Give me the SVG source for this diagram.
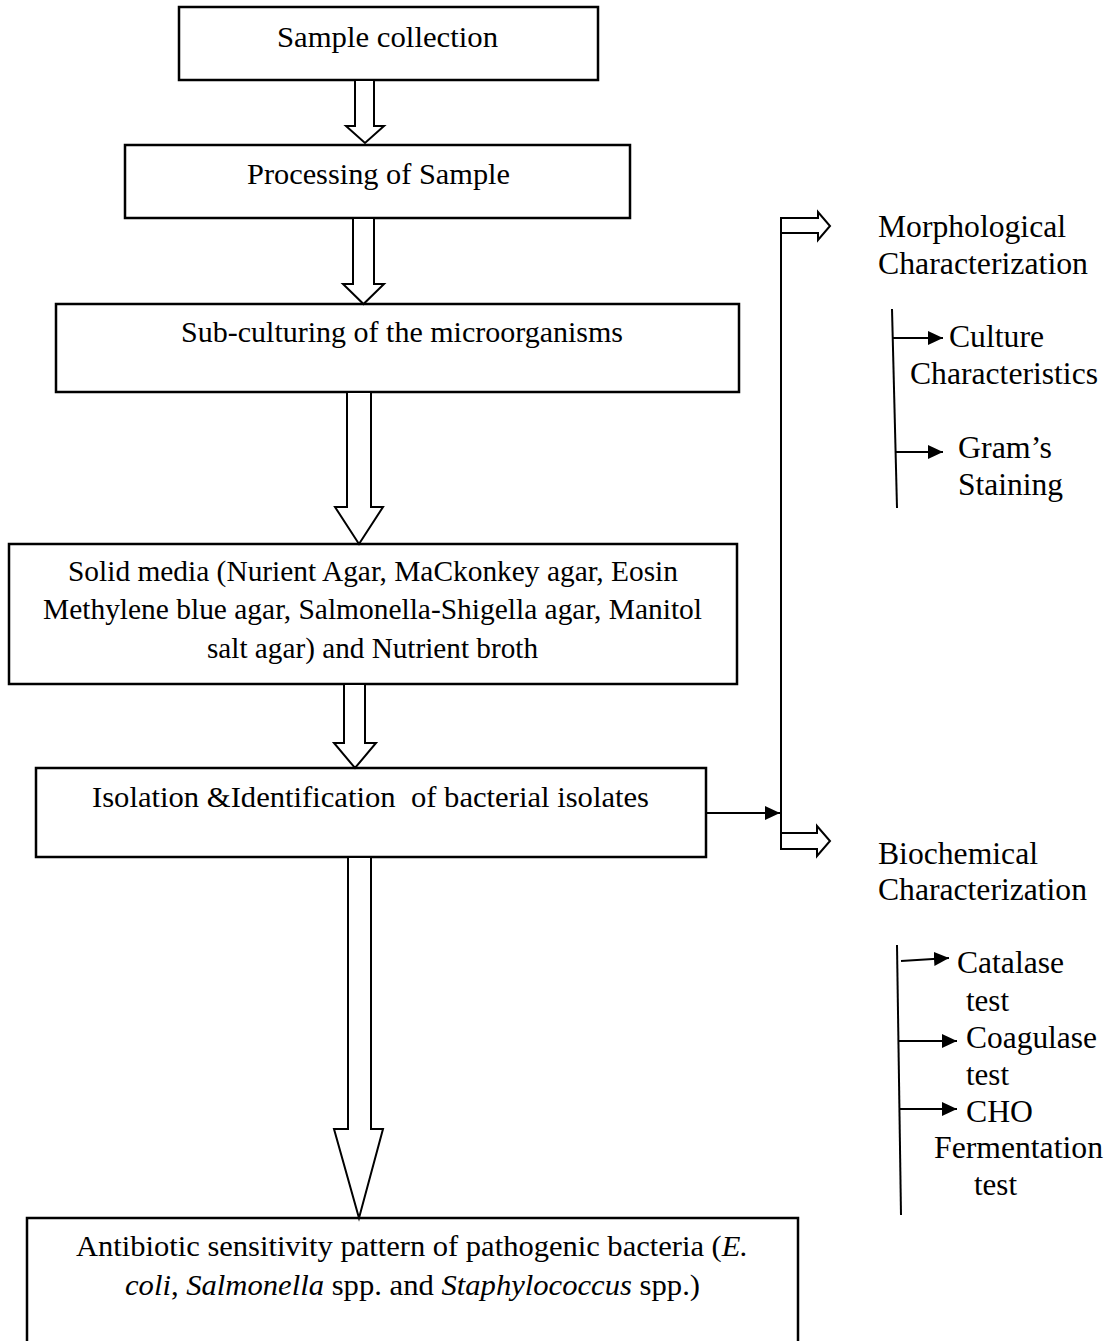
<svg xmlns="http://www.w3.org/2000/svg" width="1111" height="1341" viewBox="0 0 1111 1341">
<style>
.box{fill:#fff;stroke:#000;stroke-width:2.5}
.blk{fill:#fff;stroke:#000;stroke-width:2;stroke-linejoin:miter}
.ln{fill:none;stroke:#000;stroke-width:2}
text{font-family:"Liberation Serif","Times New Roman",serif;fill:#000}
.t{font-size:30px}
.i{font-style:italic}
</style>
<defs>
<marker id="ah" markerUnits="userSpaceOnUse" markerWidth="16" markerHeight="14" refX="15" refY="7" orient="auto">
<path d="M0,0 L15,7 L0,14 z" fill="#000"/>
</marker>
</defs>
<rect width="1111" height="1341" fill="#fff"/>

<g id="n1">
<rect class="box" x="179" y="7" width="419" height="73"/>
<text class="t" x="277" y="47" font-size="33" textLength="221" lengthAdjust="spacingAndGlyphs">Sample collection</text>
</g>
<g id="n2">
<rect class="box" x="125" y="145" width="505" height="73"/>
<text class="t" x="247" y="184" font-size="32" textLength="263" lengthAdjust="spacingAndGlyphs">Processing of Sample</text>
</g>
<g id="n3">
<rect class="box" x="56" y="304" width="683" height="88"/>
<text class="t" x="623" y="342" text-anchor="end">Sub-culturing of the microorganisms</text>
</g>
<g id="n4">
<rect class="box" x="9" y="544" width="728" height="140"/>
<text class="t" x="68" y="581" font-size="29" textLength="610" lengthAdjust="spacingAndGlyphs">Solid media (Nurient Agar, MaCkonkey agar, Eosin</text>
<text class="t" x="43" y="619" font-size="29" textLength="659" lengthAdjust="spacingAndGlyphs">Methylene blue agar, Salmonella-Shigella agar, Manitol</text>
<text class="t" x="207" y="658" font-size="29" textLength="331" lengthAdjust="spacingAndGlyphs">salt agar) and Nutrient broth</text>
</g>
<g id="n5">
<rect class="box" x="36" y="768" width="670" height="89"/>
<text class="t" x="92" y="807" xml:space="preserve" textLength="557" lengthAdjust="spacingAndGlyphs">Isolation &amp;Identification  of bacterial isolates</text>
</g>
<g id="n6">
<rect class="box" x="27" y="1218" width="771" height="140"/>
<text class="t" x="76" y="1256" textLength="672" lengthAdjust="spacingAndGlyphs">Antibiotic sensitivity pattern of pathogenic bacteria (<tspan class="i">E.</tspan></text>
<text class="t" x="125" y="1295" textLength="575" lengthAdjust="spacingAndGlyphs"><tspan class="i">coli</tspan>, <tspan class="i">Salmonella</tspan> spp. and <tspan class="i">Staphylococcus</tspan> spp.)</text>
</g>

<g id="morph">
<text x="878" y="237" font-size="31" textLength="188" lengthAdjust="spacingAndGlyphs">Morphological</text>
<text x="878" y="274" font-size="31" textLength="210" lengthAdjust="spacingAndGlyphs">Characterization</text>
</g>
<g id="culture">
<text x="949" y="347" font-size="31" textLength="95" lengthAdjust="spacingAndGlyphs">Culture</text>
<text x="910" y="384" font-size="31" textLength="188" lengthAdjust="spacingAndGlyphs">Characteristics</text>
</g>
<g id="gram">
<text x="958" y="458" font-size="31" textLength="94" lengthAdjust="spacingAndGlyphs">Gram’s</text>
<text x="958" y="495" font-size="31" textLength="105" lengthAdjust="spacingAndGlyphs">Staining</text>
</g>
<g id="biochem">
<text x="878" y="864" font-size="31" textLength="160" lengthAdjust="spacingAndGlyphs">Biochemical</text>
<text x="878" y="900" font-size="31" textLength="209" lengthAdjust="spacingAndGlyphs">Characterization</text>
</g>
<g id="catalase">
<text x="957" y="973" font-size="31" textLength="107" lengthAdjust="spacingAndGlyphs">Catalase</text>
<text x="966" y="1011" font-size="31" textLength="43" lengthAdjust="spacingAndGlyphs">test</text>
</g>
<g id="coagulase">
<text x="966" y="1048" font-size="31" textLength="131" lengthAdjust="spacingAndGlyphs">Coagulase</text>
<text x="966" y="1085" font-size="31" textLength="43" lengthAdjust="spacingAndGlyphs">test</text>
</g>
<g id="cho">
<text x="966" y="1122" font-size="31" textLength="67" lengthAdjust="spacingAndGlyphs">CHO</text>
<text x="934" y="1158" font-size="31" textLength="169" lengthAdjust="spacingAndGlyphs">Fermentation</text>
<text x="974" y="1195" font-size="31" textLength="43" lengthAdjust="spacingAndGlyphs">test</text>
</g>

<g id="connectors">
<polygon class="blk" points="355,80 374,80 374,126 384,126 365,143 346,126 355,126"/>
<polygon class="blk" points="353,218 374,218 374,284 384,284 363.5,304 343,284 353,284"/>
<polygon class="blk" points="347,392 371,392 371,507 383,507 359,544 335,507 347,507"/>
<polygon class="blk" points="344,684 365,684 365,743 376,743 355,768 334,743 344,743"/>
<polygon class="blk" points="348,857 371,857 371,1129 383,1129 359,1218 334,1129 348,1129"/>

<line class="ln" x1="706" y1="813" x2="780" y2="813" marker-end="url(#ah)"/>
<line class="ln" x1="781" y1="218" x2="781" y2="849"/>
<polygon class="blk" points="781,218 818,218 818,212 830,226 818,240 818,233 781,233"/>
<polygon class="blk" points="781,833 817,833 817,826 830,841 817,856 817,849 781,849"/>

<line class="ln" x1="892" y1="309" x2="897" y2="508"/>
<line class="ln" x1="892" y1="338" x2="943" y2="338" marker-end="url(#ah)"/>
<line class="ln" x1="896" y1="452" x2="943" y2="452" marker-end="url(#ah)"/>

<line class="ln" x1="897" y1="945" x2="901" y2="1215"/>
<line class="ln" x1="901" y1="961" x2="949" y2="958" marker-end="url(#ah)"/>
<line class="ln" x1="898" y1="1041" x2="957" y2="1041" marker-end="url(#ah)"/>
<line class="ln" x1="899" y1="1109" x2="957" y2="1109" marker-end="url(#ah)"/>
</g>
</svg>
